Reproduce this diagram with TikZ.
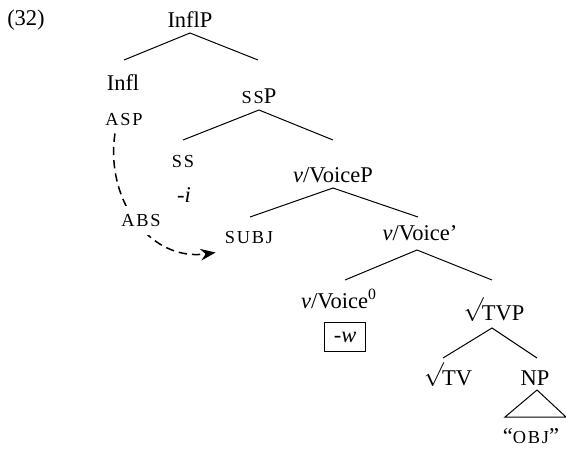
\documentclass[tikz,border=0pt]{standalone}
\usepackage{fontspec}
\setmainfont{Liberation Serif}
\newfontfamily\capsfont[LetterSpace=10]{Liberation Serif}
\usetikzlibrary{arrows.meta}

\newcommand{\smc}[1]{{\capsfont\fontsize{11}{12}\selectfont #1}}
\newcommand{\rt}{\raisebox{1pt}{$\sqrt{\vphantom{T}}$}\kern-1pt}

\begin{document}
\begin{tikzpicture}[x=0.6pt,y=-0.6pt,
  font=\fontsize{13.5}{15}\selectfont,
  lbl/.style={anchor=base,inner sep=0pt},
  branch/.style={line width=0.6pt},
  movement/.style={line width=0.9pt,dash pattern=on 5pt off 3pt,-{Stealth[length=9pt,width=7pt,inset=3pt]}}]
\useasboundingbox (0,0) rectangle (566,448);

% labels of the tree
\node[lbl] (ex) at (26,25) {(32)};
\node[lbl] (inflp) at (190,27) {InflP};
\node[lbl] (infl) at (123,90) {Infl};
\node[lbl] (asp) at (124,125) {\smc{ASP}};
\node[lbl] (ssp) at (259,103) {\smc{SS}P};
\node[lbl] (ss) at (183,167) {\smc{SS}};
\node[lbl] (affi) at (184,202) {-\textit{i}};
\node[lbl] (vp) at (333,182) {\textit{v}/VoiceP};
\node[lbl] (subj) at (249,243) {\smc{SUBJ}};
\node[lbl] (vbar) at (420,240) {\textit{v}/Voice'};
\node[lbl] (vhead) at (339,308) {\textit{v}/Voice\textsuperscript{0}};
\node[draw,line width=0.8pt,minimum width=24.6pt,minimum height=17.4pt,inner sep=0pt] (affw) at (345,337) {-\textit{w}};
\node[lbl] (tvp) at (494,320) {\rt TVP};
\node[lbl] (tv) at (448,385) {\rt TV};
\node[lbl] (np) at (535,385) {NP};
\node[lbl] (obj) at (531,443) {``\smc{OBJ}''};

% branch points
\coordinate (a1) at (190,33);  \coordinate (l1) at (124,60);  \coordinate (r1) at (258,60);
\coordinate (a2) at (259,110); \coordinate (l2) at (183,140); \coordinate (r2) at (333,140);
\coordinate (a3) at (333,188); \coordinate (l3) at (250,217); \coordinate (r3) at (418,217);
\coordinate (a4) at (417,250); \coordinate (l4) at (345,280); \coordinate (r4) at (492,280);
\coordinate (a5) at (492,328); \coordinate (l5) at (443,358); \coordinate (r5) at (537,358);
\coordinate (a6) at (537,390); \coordinate (l6) at (505,417); \coordinate (r6) at (566,417);

\draw[branch] (l1) -- (a1) -- (r1);
\draw[branch] (l2) -- (a2) -- (r2);
\draw[branch] (l3) -- (a3) -- (r3);
\draw[branch] (l4) -- (a4) -- (r4);
\draw[branch] (l5) -- (a5) -- (r5);
\draw[branch] (l6) -- (a6) -- (r6) -- cycle;

% the movement arrow
\draw[movement] ([shift={(-9,8)}]asp.south) .. controls (105,200) and (150,262) .. ([shift={(-9,9)}]subj.south west);
\node[lbl,fill=white,inner sep=5pt] (abs) at (141,226) {\smc{ABS}};
\end{tikzpicture}
\end{document}
